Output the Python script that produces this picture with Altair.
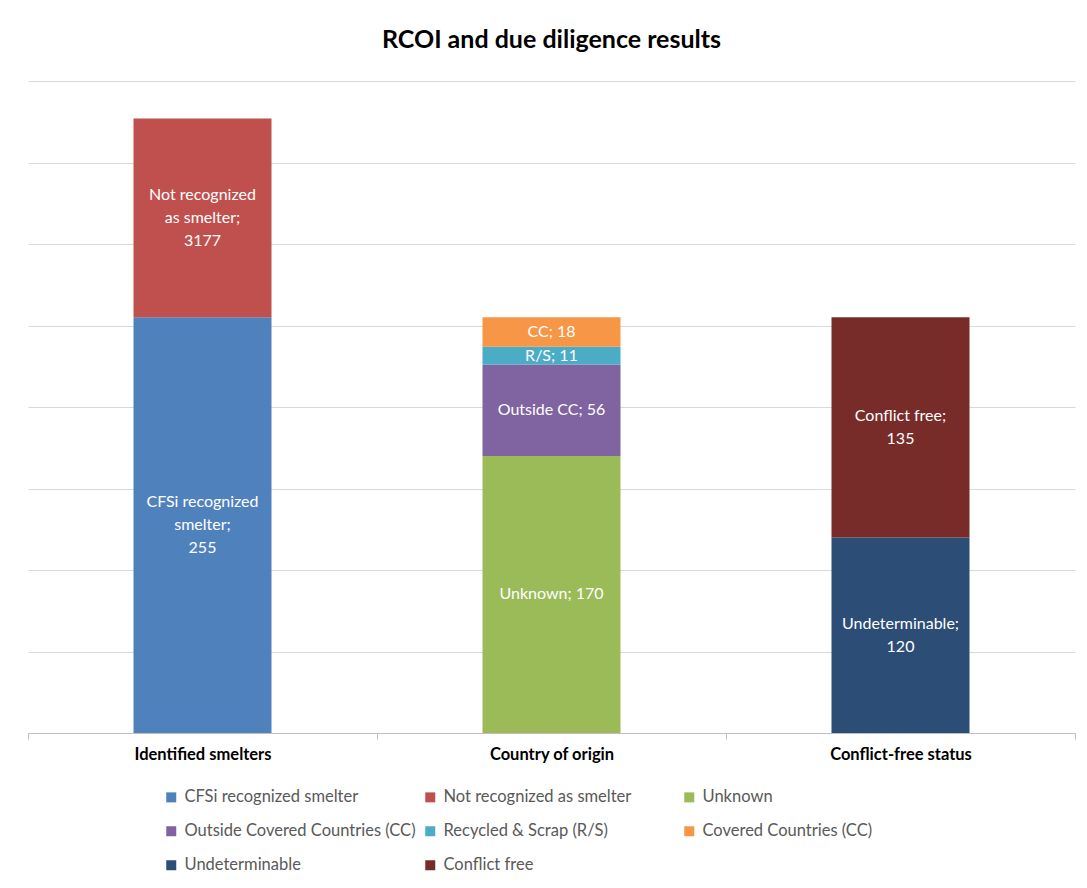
import altair as alt
import pandas as pd

categories = ["Identified smelters", "Country of origin", "Conflict-free status"]
series = [
    "CFSi recognized smelter",
    "Not recognized as smelter",
    "Unknown",
    "Outside Covered Countries (CC)",
    "Recycled & Scrap (R/S)",
    "Covered Countries (CC)",
    "Undeterminable",
    "Conflict free",
]
series_category = [
    "Identified smelters", "Identified smelters",
    "Country of origin", "Country of origin", "Country of origin", "Country of origin",
    "Conflict-free status", "Conflict-free status",
]
# bar heights as drawn in the picture (the 3177 segment is drawn shortened)
drawn_heights = [255, 122, 170, 56, 11, 18, 120, 135]
bar_labels = [
    "CFSi recognized\nsmelter;\n255",
    "Not recognized\nas smelter;\n3177",
    "Unknown; 170",
    "Outside CC; 56",
    "R/S; 11",
    "CC; 18",
    "Undeterminable;\n120",
    "Conflict free;\n135",
]
stack_order = [0, 1, 0, 1, 2, 3, 0, 1]
colors = ["#4F81BD", "#C0504D", "#9BBB59", "#8064A2", "#4BACC6", "#F79646", "#2C4D76", "#772C2A"]

df = pd.DataFrame({
    "series": series,
    "category": series_category,
    "height": drawn_heights,
    "label": bar_labels,
    "order": stack_order,
})

FONT = "Lato"
LINE_H = 23

base = alt.Chart(df).transform_stack(
    stack="height",
    groupby=["category"],
    as_=["y0", "y1"],
    sort=[alt.SortField("order", "ascending")],
).transform_calculate(
    mid="(datum.y0 + datum.y1) / 2",
    nlines="length(split(datum.label, '\\n'))",
)

x_enc = alt.X(
    "category:N",
    sort=categories,
    scale=alt.Scale(paddingInner=0, paddingOuter=0),
    axis=alt.Axis(
        title=None,
        labelAngle=0,
        labelFont=FONT,
        labelFontSize=16.5,
        labelFontWeight="bold",
        labelColor="#000000",
        labelPadding=7,
        domainColor="#bfbfbf",
        tickColor="#bfbfbf",
        tickSize=6,
        tickBand="extent",
        grid=False,
    ),
)

bars = base.mark_bar(width=138).encode(
    x=x_enc,
    y=alt.Y(
        "y0:Q",
        scale=alt.Scale(domain=[0, 400], nice=False),
        axis=alt.Axis(
            title=None,
            labels=False,
            ticks=False,
            domain=False,
            grid=True,
            gridColor="#d9d9d9",
            values=list(range(0, 401, 50)),
        ),
    ),
    y2="y1:Q",
    color=alt.Color(
        "series:N",
        sort=series,
        scale=alt.Scale(domain=series, range=colors),
        legend=alt.Legend(
            title=None,
            orient="none",
            direction="horizontal",
            legendX=135,
            legendY=708,
            columns=3,
            gridAlign="all",
            symbolType="square",
            symbolSize=100,
            symbolStrokeWidth=0,
            labelFont=FONT,
            labelFontSize=16.5,
            labelColor="#595959",
            labelOffset=5,
            rowPadding=17,
            columnPadding=6,
            labelLimit=400,
        ),
    ),
)


def text_layer(n, dy):
    return base.transform_filter(f"datum.nlines == {n}").mark_text(
        color="white",
        font=FONT,
        fontSize=16,
        lineBreak="\n",
        lineHeight=LINE_H,
        baseline="middle",
        align="center",
        dy=dy,
    ).encode(
        x=alt.X("category:N", sort=categories),
        y=alt.Y("mid:Q"),
        text="label:N",
    )


texts = [text_layer(1, 0), text_layer(2, -LINE_H / 2), text_layer(3, -LINE_H)]

chart = alt.layer(bars, *texts).properties(
    width=1047,
    height=652,
    title=alt.TitleParams(
        "RCOI and due diligence results",
        font=FONT,
        fontSize=25,
        fontWeight="bold",
        color="#000000",
        anchor="middle",
        offset=28,
    ),
    autosize=alt.AutoSizeParams(type="none"),
    padding={"left": 20, "top": 73, "right": 4, "bottom": 140},
).configure_view(stroke=None)

chart.save("out.html", embed_options={"renderer": "svg", "actions": False})
